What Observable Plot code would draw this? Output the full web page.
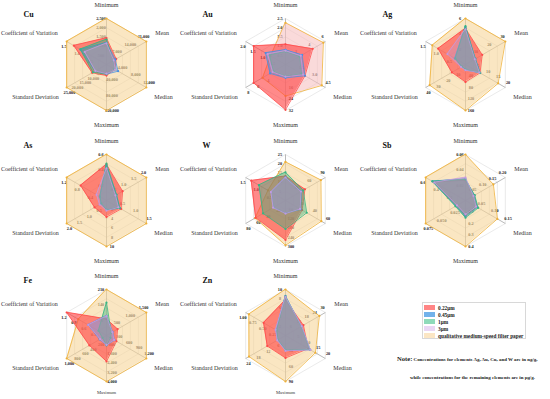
<!DOCTYPE html>
<html><head><meta charset="utf-8">
<script src="https://cdn.jsdelivr.net/npm/d3@7"></script>
<script src="https://cdn.jsdelivr.net/npm/@observablehq/plot@0.6"></script>
<style>
body{margin:0;background:#fff;}
#wrap{position:relative;width:550px;height:399px;overflow:hidden;background:#fff;font-family:"Liberation Serif","Times New Roman",serif;}
.panel{position:absolute;}
.panel svg{overflow:visible;}
#legend{position:absolute;left:422px;top:302px;width:104px;height:37px;border:1px solid #d8d8d8;box-sizing:border-box;padding:1px 1px;}
.li{display:flex;align-items:center;height:7px;font-size:5.3px;font-weight:bold;color:#222;white-space:nowrap;}
.sw{width:11px;height:5.5px;margin-right:3px;}
.note{position:absolute;font-weight:bold;color:#222;white-space:nowrap;font-size:4.9px;}
</style></head><body><div id="wrap"></div>
<script>
const axes = ["Minimum","Mean","Median","Maximum","Standard Deviation","Coefficient of Variation"];
const seriesNames = ["0.22μm","0.45μm","1μm","3μm","qualitative medium-speed filter paper"];
const elements = ["Cu","Au","Ag","As","W","Sb","Fe","Zn"];

// tick labels per axis (last one = axis maximum)
const Cu_ticks = [["500","1,000","1,500","2,000","2,500"],["7,000","14,000","21,000"],["4,000","8,000","12,000"],["40,000","80,000","120,000"],["5,000","10,000","15,000","20,000","25,000"],["0.5","1.0","1.5"]];
const Au_ticks = [["0.5","1.0","1.5","2.0","2.5"],["2","4","6"],["1.5","3.0","4.5"],["8","16","24","32"],["2","4","6","8"],["0.5","1.0","1.5","2.0"]];
const Ag_ticks = [["2","4","6"],["10","20","30"],["5","10","15","20"],["40","80","120","160"],["10","20","30","40"],["0.5","1.0","1.5"]];
const As_ticks = [["0.2","0.4","0.6"],["0.5","1.0","1.5","2.0"],["0.5","1.0","1.5"],["2","4","6","8","10"],["0.5","1.0","1.5","2.0"],["0.4","0.8","1.2"]];
const W_ticks  = [["5","10","15","20","25"],["30","60","90"],["20","40","60"],["60","120","180","240","300"],["20","40","60","80"],["0.5","1.0","1.5"]];
const Sb_ticks = [["0.02","0.04","0.06"],["0.05","0.10","0.15","0.20"],["0.05","0.10","0.15"],["0.1","0.2","0.3","0.4"],["0.025","0.050","0.075"],["0.2","0.4","0.6"]];
const Fe_ticks = [["70","140","210"],["500","1,000","1,500"],["300","600","900","1,200"],["800","1,600","2,400","3,200","4,000"],["200","400","600","800","1,000"],["0.3","0.6","0.9","1.2"]];
const Zn_ticks = [["2","4","6","8","10"],["6","12","18","24","30"],["5","10","15","20"],["30","60","90"],["6","12","18","24"],["0.25","0.50","0.75","1.00"]];

// values: rows = series (0.22μm, 0.45μm, 1μm, 3μm, filter paper), cols = axes
const Cu_values = [[1440,5100,2500,29000,9000,1.23],[1190,4600,3500,25000,7200,0.97],[1360,3600,2400,25000,8500,0.99],[1150,3800,2600,24000,7000,0.82],[2500,21000,12000,120000,25000,1.5]];
const Au_values = [[1.1,4.1,2.2,31.5,6.4,1.6],[0.8,2.5,2.2,9.3,3.1,1.0],[0.7,2.1,1.8,8,2.4,0.8],[0.75,2.3,2.0,8.5,2.6,0.9],[2.27,5.7,4.1,21.9,4.6,0.75]];
const Ag_values = [[4.7,12.6,7.3,61,13.7,1.03],[4.9,7.5,7.4,18,4,0.4],[5.0,7.3,7.3,17,3.5,0.38],[4.6,7.0,7.0,20,4.5,0.68],[6,30,16.4,160,36,1.25]];
const As_values = [[0.47,0.81,0.55,3.6,0.6,0.78],[0.46,0.5,0.5,2.0,0.28,0.2],[0.48,0.5,0.5,2.0,0.26,0.2],[0.42,0.45,0.45,2.2,0.35,0.3],[0.6,2.0,1.5,10,2.0,1.2]];
const W_values  = [[13.2,44,25,257,60,1.29],[12.7,36,23,83,24,0.54],[15.3,40,32,186,45,1.0],[12.5,35,22,85,25,0.55],[21,80,54,292,61,0.66]];
const Sb_values = [[0.026,0.042,0.042,0.13,0.017,0.48],[0.028,0.045,0.045,0.14,0.018,0.5],[0.027,0.046,0.048,0.15,0.019,0.5],[0.03,0.04,0.04,0.12,0.016,0.47],[0.06,0.14,0.12,0.4,0.075,0.6]];
const Fe_values = [[75,420,300,2250,430,1.2],[90,230,240,840,170,0.55],[150,180,120,850,100,0.24],[88,220,230,820,160,0.55],[210,1500,1200,4000,1000,0.85]];
const Zn_values = [[7.7,13.5,11.4,44,11,0.55],[8.6,12,12.4,29,4.8,0.24],[8.5,11.8,12.2,28,4.5,0.22],[8.4,12.2,12.5,30,5,0.25],[10,25.5,15,90,22,0.92]];

const panelData = {Cu:[Cu_ticks,Cu_values],Au:[Au_ticks,Au_values],Ag:[Ag_ticks,Ag_values],As:[As_ticks,As_values],W:[W_ticks,W_values],Sb:[Sb_ticks,Sb_values],Fe:[Fe_ticks,Fe_values],Zn:[Zn_ticks,Zn_values]};

// styles
const seriesFill = ["#ff4242","#3d8fe0","#2fb37f","#c896c8","#f7d69a"];
const seriesStroke = ["#ff4a4a","#4a90e2","#35b583","#c49ae0","#efb036"];
const seriesOpacity = [0.62,0.42,0.42,0.42,0.6];
const paperFillOverride = {Au: "#f6c2c2"};
const legendSwatch = ["#ff8585","#72b2ea","#8fdab9","#ead6f4","#fbe6c4"];

const R = 46;
const cols = [106,285,465], rows = [64,200,335];
const wrap = document.getElementById("wrap");
const num = s => +s.replace(/,/g,"");
const ux = i => Math.sin(i*Math.PI/3), uy = i => Math.cos(i*Math.PI/3);
// label pixel offsets from outer vertex (screen dx, dy) and anchors
const labelOff = [[0,-13,"middle"],[9,-8,"start"],[8,10,"start"],[0,15,"middle"],[-8,10,"end"],[-9,-8,"end"]];
const FONT = "Liberation Serif, Times New Roman, serif";

elements.forEach((name, k) => {
  const [ticks, values] = panelData[name];
  const rowIdx = Math.floor(k / 3);
  const cx = cols[k % 3], cy = rows[rowIdx];
  const maxes = ticks.map(t => num(t[t.length - 1]));
  const W = 180, H = 136, left = 104, top = 64;
  const rings = [0.2,0.4,0.6,0.8,1].flatMap(f => d3.range(7).map(j => ({f, x: f*ux(j%6), y: f*uy(j%6)})));
  const spokes = axes.map((a,i) => ({x: ux(i), y: uy(i)}));
  const off = 5.5 / R;
  const tickData = ticks.flatMap((ts,i) => ts.map(t => {
    const f = num(t) / maxes[i];
    return {label: t, x: f*ux(i) - off*uy(i), y: f*uy(i) + off*ux(i)};
  }));
  const labels = axes.map((a,i) => {
    let dy = labelOff[i][1];
    if (i === 3 && rowIdx === 2) dy = 11;
    return {a, anchor: labelOff[i][2], small: i === 3 && rowIdx === 2, x: ux(i) + labelOff[i][0]/R, y: uy(i) - dy/R};
  });
  const polys = values.map((vals, s) => vals.map((v, i) => ({s, x: v/maxes[i]*ux(i), y: v/maxes[i]*uy(i)})));
  const order = [4,0,1,2,3];
  const polyMarks = order.flatMap(s => {
    const fill = (s === 4 && paperFillOverride[name]) ? paperFillOverride[name] : seriesFill[s];
    return [
      Plot.area(polys[s], {x1: "x", y1: "y", x2: 0, y2: 0, fill, fillOpacity: seriesOpacity[s], curve: "linear-closed"}),
      Plot.line(polys[s], {x: "x", y: "y", stroke: seriesStroke[s], strokeWidth: 0.8, curve: "linear-closed"}),
      Plot.dot(polys[s], {x: "x", y: "y", r: 1.1, fill: seriesStroke[s], stroke: "none"})
    ];
  });
  const chart = Plot.plot({
    width: W, height: H, margin: 0,
    x: {domain: [-left/R, (W-left)/R], axis: null},
    y: {domain: [-(H-top)/R, top/R], axis: null},
    style: {fontFamily: FONT, background: "transparent", overflow: "visible"},
    marks: [
      Plot.line(rings, {x: "x", y: "y", z: "f", stroke: "#dcdcdc", strokeWidth: 0.6}),
      Plot.link(spokes, {x1: 0, y1: 0, x2: "x", y2: "y", stroke: "#8a8a8a", strokeWidth: 0.6}),
      Plot.text(tickData, {x: "x", y: "y", text: "label", fontSize: 4.3, fontWeight: "bold", fill: "#222", fontFamily: FONT}),
      ...polyMarks,
      ...["start","middle","end"].map(an => Plot.text(labels.filter(d => d.anchor === an && !d.small), {x: "x", y: "y", text: "a", textAnchor: an, fontSize: 6, fill: "#333", fontFamily: FONT})),
      Plot.text(labels.filter(d => d.small), {x: "x", y: "y", text: "a", fontSize: 4.6, fill: "#333", fontFamily: FONT}),
      Plot.text([name], {frameAnchor: "top-left", dx: 21, dy: rowIdx === 0 ? 11 : 6, text: d => d, fontSize: 8, fontWeight: "bold", fill: "#111", fontFamily: FONT})
    ]
  });
  const div = document.createElement("div");
  div.className = "panel";
  div.style.left = (cx - left) + "px";
  div.style.top = (cy - top) + "px";
  div.appendChild(chart);
  wrap.appendChild(div);
});

// legend
const lg = document.createElement("div");
lg.id = "legend";
seriesNames.forEach((s, i) => {
  const row = document.createElement("div");
  row.className = "li";
  row.innerHTML = `<span class="sw" style="background:${legendSwatch[i]}"></span><span>${s}</span>`;
  lg.appendChild(row);
});
wrap.appendChild(lg);
const n1 = document.createElement("div");
n1.className = "note";
n1.style.left = "397px"; n1.style.top = "355px";
n1.innerHTML = `<span style="font-size:6.6px">Note:</span> Concentrations for elements Ag, Au, Cu, and W are in ng/g,`;
wrap.appendChild(n1);
const n2 = document.createElement("div");
n2.className = "note";
n2.style.left = "410px"; n2.style.top = "375px";
n2.textContent = "while concentrations for the remaining elements are in μg/g.";
wrap.appendChild(n2);
</script>
</body></html>
